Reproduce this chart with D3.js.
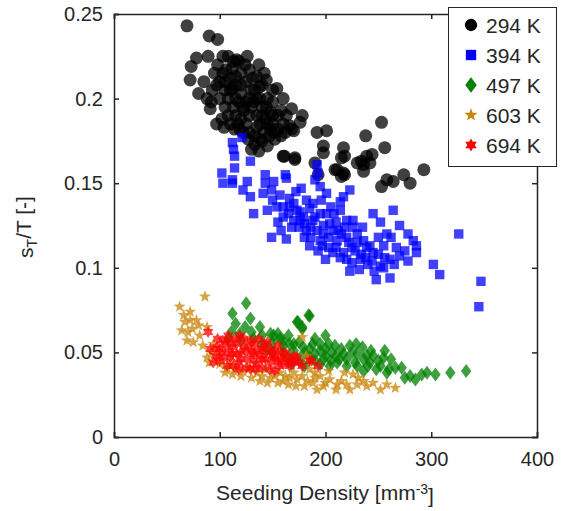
<!DOCTYPE html>
<html>
<head>
<meta charset="utf-8">
<script src="https://cdn.jsdelivr.net/npm/d3@7"></script>
<style>
  body { margin: 0; background: #fff; }
  text { font-family: "Liberation Sans", Arial, sans-serif; fill: #262626; }
</style>
</head>
<body>
<svg id="chart"></svg>
<script>
const width = 567;
const height = 511;

const xTicks = [0, 100, 200, 300, 400];
const yTicks = [0, 0.05, 0.1, 0.15, 0.2, 0.25];
const yTickLabels = ["0", "0.05", "0.1", "0.15", "0.2", "0.25"];
const seriesNames = ["294 K", "394 K", "497 K", "603 K", "694 K"];

// [seeding density, sT/T]
const k294 = [[69,0.243],[90,0.237],[98,0.235],[89,0.225],[103,0.225],[108,0.225],[78,0.224],[73,0.219],[116,0.223],[137,0.220],[72,0.211],[80,0.203],[144,0.211],[154,0.206],[160,0.200],[168,0.194],[178,0.190],[176,0.186],[91,0.194],[97,0.185],[114,0.182],[138,0.176],[137,0.169],[152,0.176],[168,0.182],[161,0.166],[171,0.165],[166,0.184],[170,0.181],[192,0.180],[201,0.181],[253,0.186],[238,0.178],[198,0.172],[198,0.168],[217,0.171],[218,0.166],[215,0.165],[256,0.171],[239,0.166],[244,0.167],[234,0.163],[236,0.161],[242,0.162],[236,0.157],[160,0.166],[171,0.164],[190,0.162],[193,0.155],[211,0.158],[218,0.155],[215,0.154],[293,0.158],[274,0.155],[280,0.150],[258,0.152],[264,0.151],[253,0.148],[230,0.162],[209,0.158],[217,0.156],
  [95,0.215],[100,0.210],[105,0.205],[110,0.212],[115,0.208],[120,0.203],[125,0.210],[108,0.200],[113,0.195],[118,0.198],[123,0.193],[128,0.200],[133,0.205],[130,0.195],[135,0.190],[140,0.195],[145,0.200],[138,0.185],[143,0.188],[148,0.192],[150,0.185],[155,0.190],[125,0.185],[128,0.180],[133,0.178],[120,0.188],[115,0.190],[105,0.195],[100,0.200],[93,0.205],[98,0.220],[112,0.218],[120,0.215],[128,0.217],[135,0.213],[140,0.208],[132,0.198],[122,0.180],[142,0.180],[147,0.178],[155,0.182],[160,0.185],[163,0.190],[110,0.185],[102,0.188],[85,0.210],[88,0.200],[150,0.198],[145,0.172],[130,0.170],[118,0.222],[126,0.225],[106,0.217],[115,0.200],[138,0.200],
  [105,0.210],[110,0.205],[115,0.213],[120,0.208],[125,0.198],[130,0.205],[135,0.200],[140,0.190],[145,0.185],[150,0.190],[135,0.183],[128,0.190],[122,0.195],[117,0.185],[108,0.190],[103,0.215],[113,0.222],[124,0.220],[131,0.212],[138,0.207],[144,0.195],[152,0.180],[158,0.178],[148,0.182],[140,0.175],[133,0.173],[127,0.176],[119,0.182],[112,0.206],[97,0.208],[92,0.198],[104,0.183],[158,0.193],[162,0.180],[150,0.205],[142,0.215]];

const k394 = [[112,0.174],[121,0.177],[113,0.170],[114,0.166],[129,0.163],[114,0.159],[102,0.156],[103,0.150],[112,0.152],[112,0.150],[126,0.151],[122,0.146],[129,0.142],[143,0.155],[143,0.150],[151,0.151],[141,0.144],[149,0.146],[162,0.155],[163,0.153],[177,0.147],[132,0.132],[145,0.134],[149,0.118],[163,0.117],[192,0.161],[193,0.156],[190,0.152],[195,0.148],[201,0.144],[223,0.146],[214,0.139],[157,0.143],[166,0.141],[173,0.134],[182,0.140],[188,0.138],[179,0.130],[154,0.136],[155,0.127],[170,0.128],[182,0.122],[192,0.122],[185,0.113],[195,0.116],[207,0.122],[211,0.116],[193,0.110],[207,0.109],[217,0.109],[201,0.132],[214,0.134],[220,0.128],[226,0.124],[264,0.134],[245,0.132],[252,0.127],[326,0.120],[278,0.120],[258,0.120],[286,0.113],[286,0.109],[278,0.104],[302,0.102],[308,0.096],[347,0.092],[345,0.077],[261,0.094],[248,0.093],[223,0.098],[252,0.101],[233,0.105],[239,0.112],[245,0.109],[267,0.112],[270,0.107],[226,0.128],[230,0.120],[261,0.105],
  [166,0.136],[160,0.130],[175,0.124],[188,0.128],[198,0.125],[203,0.118],[215,0.120],[222,0.115],[228,0.110],[236,0.116],[240,0.102],[232,0.099],[255,0.113],[262,0.118],[196,0.140],[205,0.136],[172,0.145],[150,0.140],[180,0.118],[200,0.105],[185,0.135],[210,0.127],[225,0.103],[270,0.125],[283,0.116],[217,0.142],[235,0.124],[250,0.118],
  [160,0.136],[165,0.132],[170,0.138],[176,0.133],[180,0.126],[186,0.124],[190,0.130],[195,0.132],[198,0.120],[204,0.126],[208,0.132],[212,0.122],[218,0.124],[220,0.118],[225,0.112],[230,0.115],[234,0.108],[238,0.106],[244,0.104],[242,0.113],[250,0.108],[256,0.106],[197,0.113],[203,0.112],[210,0.112],[214,0.106],[220,0.105],[186,0.118],[176,0.128],[168,0.124],[158,0.122],[246,0.098],[255,0.100],[265,0.102],[275,0.110]];

const k497 = [[125,0.079],[112,0.073],[115,0.067],[129,0.070],[124,0.065],[138,0.065],[111,0.062],[119,0.061],[148,0.061],[155,0.061],[173,0.068],[178,0.065],[184,0.072],[160,0.057],[170,0.055],[174,0.068],[185,0.0715],[178,0.064],[157,0.058],[166,0.055],[188,0.055],[203,0.055],[209,0.054],[223,0.054],[225,0.050],[256,0.051],[255,0.047],[200,0.048],[211,0.044],[236,0.046],[242,0.044],[248,0.040],[258,0.038],[266,0.041],[272,0.041],[275,0.035],[285,0.034],[291,0.037],[296,0.038],[304,0.037],[318,0.038],[333,0.039],[151,0.060],[179,0.053],[195,0.051],[217,0.049],[230,0.049],[239,0.048],[220,0.042],[204,0.042],[195,0.043],[230,0.042],[236,0.039],[280,0.036],
  [108,0.058],[120,0.057],[132,0.058],[140,0.055],[145,0.052],[150,0.050],[160,0.050],[165,0.047],[175,0.046],[185,0.047],[190,0.045],[180,0.042],[168,0.043],[198,0.046],[206,0.050],[215,0.052],[229,0.055],[243,0.051],[250,0.045],[262,0.046],[213,0.046],[190,0.058],[200,0.060],[235,0.053],
  [130,0.062],[140,0.060],[150,0.056],[160,0.054],[170,0.051],[180,0.050],[190,0.049],[200,0.052],[210,0.048],[220,0.046],[228,0.044],[240,0.042],[252,0.042],[260,0.040],[185,0.052],[195,0.055],[175,0.056],[165,0.060],[205,0.045],[245,0.048]];

const k603 = [[86,0.083],[62,0.077],[66,0.072],[72,0.069],[67,0.068],[64,0.063],[74,0.064],[69,0.057],[75,0.056],[81,0.060],[88,0.065],[84,0.054],[88,0.047],[92,0.050],[94,0.055],[78,0.069],[107,0.041],[122,0.039],[135,0.038],[148,0.035],[160,0.033],[173,0.034],[182,0.048],[178,0.059],[203,0.039],[226,0.037],[188,0.032],[211,0.031],[223,0.028],[239,0.030],[252,0.028],[266,0.029],[192,0.028],[166,0.035],[157,0.038],[204,0.034],[185,0.040],[231,0.035],[245,0.032],[70,0.062],[72,0.074],
  [100,0.043],[115,0.040],[128,0.041],[140,0.036],[152,0.036],[165,0.031],[178,0.036],[195,0.036],[215,0.033],[236,0.033],[258,0.031],[98,0.048],[110,0.044],[170,0.038],[198,0.030],[183,0.033],[143,0.040],[218,0.038],[80,0.066],[90,0.044],
  [105,0.038],[112,0.037],[120,0.036],[130,0.035],[138,0.033],[145,0.032],[155,0.032],[162,0.036],[172,0.030],[180,0.030],[190,0.035],[200,0.032],[210,0.028],[220,0.031],[230,0.031],[190,0.038]];

const k694 = [[89,0.062],[91,0.052],[94,0.044],[107,0.042],[129,0.040],[147,0.040],[166,0.042],[173,0.047],[193,0.042],[185,0.045],[119,0.060],[129,0.057],[152,0.051],[170,0.048],[187,0.045],[152,0.039],[98,0.058],[102,0.050],[105,0.055],[110,0.047],[112,0.053],[115,0.058],[118,0.044],[120,0.050],[123,0.054],[126,0.046],[130,0.050],[133,0.055],[135,0.043],[138,0.048],[140,0.052],[143,0.046],[145,0.056],[148,0.044],[150,0.048],[155,0.045],[158,0.050],[160,0.043],[163,0.047],[100,0.045],[108,0.060],[125,0.041],[140,0.041],[113,0.042],[97,0.053],[132,0.045],[155,0.054],[175,0.044],[178,0.042],[116,0.049],[137,0.058],[168,0.045],[103,0.057],
  [100,0.052],[104,0.047],[108,0.051],[112,0.049],[116,0.055],[120,0.046],[124,0.051],[128,0.053],[132,0.049],[136,0.051],[140,0.046],[144,0.050],[148,0.052],[152,0.047],[156,0.042],[162,0.050],[165,0.044],[118,0.040],[110,0.056],[123,0.058],[142,0.055],[134,0.040],[96,0.048],[158,0.046],[170,0.044]];

const seriesData = [k294, k394, k497, k603, k694];
const colors = ["#000000", "#0000ff", "#008000", "#c8860a", "#ff0000"];

// marker shapes as path strings, s = scale
function starPath(n, R, r) {
    const pts = [];
    for (let i = 0; i < 2 * n; i++) {
        const a = -Math.PI / 2 + i * Math.PI / n;
        const rad = i % 2 === 0 ? R : r;
        pts.push([rad * Math.cos(a), rad * Math.sin(a)]);
    }
    return "M" + pts.map(p => p[0].toFixed(2) + "," + p[1].toFixed(2)).join("L") + "Z";
}
const shapes = [
    s => `M${6.5*s},0A${6.5*s},${6.5*s} 0 1,1 ${-6.5*s},0A${6.5*s},${6.5*s} 0 1,1 ${6.5*s},0Z`,
    s => `M${-4.7*s},${-4.7*s}h${9.4*s}v${9.4*s}h${-9.4*s}Z`,
    s => `M0,${-7*s}L${5.2*s},0L0,${7*s}L${-5.2*s},0Z`,
    s => starPath(5, 6.3 * s, 2.6 * s),
    s => starPath(6, 6 * s, 3.46 * s)
];

const margin = { top: 14, right: 30, bottom: 74, left: 114 };
const innerWidth = width - margin.left - margin.right;
const innerHeight = height - margin.top - margin.bottom;

const svg = d3.select("#chart").attr("width", width).attr("height", height);
const g = svg.append("g").attr("transform", `translate(${margin.left}, ${margin.top})`);

const xScale = d3.scaleLinear().domain([0, 400]).range([0, innerWidth]);
const yScale = d3.scaleLinear().domain([0, 0.25]).range([innerHeight, 0]);

// points
seriesData.forEach((data, i) => {
    g.append("g").selectAll("path").data(data).enter()
        .append("path")
        .attr("d", shapes[i](1))
        .attr("transform", d => `translate(${xScale(d[0])}, ${yScale(d[1])})`)
        .attr("fill", colors[i])
        .attr("fill-opacity", 0.75);
});

// axes, ticks inward, box all round
const axisColor = "#262626";
const xAxis = g.append("g").attr("transform", `translate(0, ${innerHeight})`)
    .call(d3.axisBottom(xScale).tickValues(xTicks).tickSize(-5).tickPadding(15).tickFormat(d3.format("d")));
const xTop = g.append("g")
    .call(d3.axisTop(xScale).tickValues(xTicks).tickSize(-5).tickFormat(""));
const yAxis = g.append("g")
    .call(d3.axisLeft(yScale).tickValues(yTicks).tickSize(-5).tickPadding(11).tickFormat((d, i) => yTickLabels[i]));
const yRight = g.append("g").attr("transform", `translate(${innerWidth}, 0)`)
    .call(d3.axisRight(yScale).tickValues(yTicks).tickSize(-5).tickFormat(""));

// the mirrored axes carry no labels
xTop.selectAll(".tick text").remove();
yRight.selectAll(".tick text").remove();

[xAxis, xTop, yAxis, yRight].forEach(a => {
    a.select(".domain").attr("stroke", axisColor).attr("stroke-width", 1.5);
    a.selectAll(".tick line").attr("stroke", axisColor).attr("stroke-width", 1.5);
    a.selectAll(".tick text").style("font-size", "20px").style("font-family", "Liberation Sans, Arial, sans-serif").attr("fill", axisColor);
});

// axis titles
const xTitle = svg.append("text")
    .attr("x", 325)
    .attr("y", 500)
    .attr("text-anchor", "middle")
    .style("font-size", "21px");
xTitle.append("tspan").text("Seeding Density [mm");
xTitle.append("tspan").attr("dy", "-0.45em").style("font-size", "14px").text("-3");
xTitle.append("tspan").attr("dy", "0.45em").text("]");

const yTitle = svg.append("text")
    .attr("transform", "translate(33, 227) rotate(-90)")
    .attr("text-anchor", "middle")
    .style("font-size", "21px");
yTitle.append("tspan").text("s");
yTitle.append("tspan").attr("dy", "0.3em").style("font-size", "14px").text("T");
yTitle.append("tspan").attr("dy", "-0.3em").text("/T [-]");

// legend
const legend = svg.append("g");
legend.append("rect")
    .attr("x", 448.5).attr("y", 7.5)
    .attr("width", 108).attr("height", 159)
    .attr("fill", "#fff")
    .attr("stroke", axisColor)
    .attr("stroke-width", 1);
seriesNames.forEach((name, i) => {
    const cy = 25 + i * 30;
    legend.append("path")
        .attr("d", shapes[i](i === 0 ? 0.95 : 1.1))
        .attr("transform", `translate(471, ${cy})`)
        .attr("fill", colors[i]);
    legend.append("text")
        .attr("x", 486)
        .attr("y", cy)
        .attr("dy", "0.36em")
        .style("font-size", "21px")
        .attr("fill", "#000")
        .text(name);
});
</script>
</body>
</html>
